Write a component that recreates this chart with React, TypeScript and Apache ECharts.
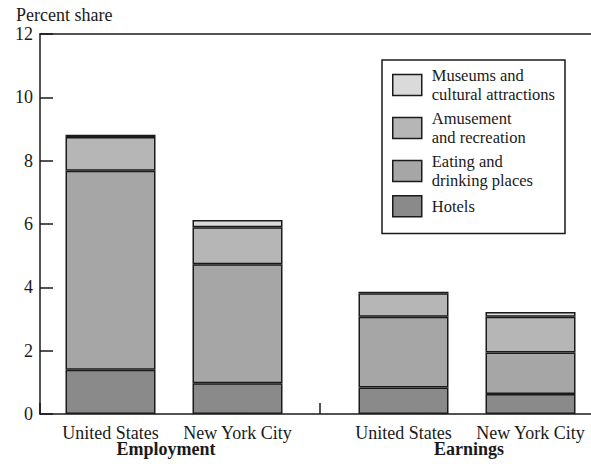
import React, { useEffect, useRef } from "react";
import * as echarts from "echarts";

const groupNames = ["Employment", "Earnings"];
const placeNames = ["United States", "New York City"];
const yTicks = { min: 0, max: 12, interval: 2 };

const segmentNames = [
  "Hotels",
  "Eating and\ndrinking places",
  "Amusement\nand recreation",
  "Museums and\ncultural attractions",
];

// Percent share values: [United States, New York City]
const employmentHotels = [1.4, 0.97];
const employmentEating = [6.28, 3.76];
const employmentAmusement = [1.07, 1.17];
const employmentMuseums = [0.07, 0.23];

const earningsHotels = [0.84, 0.63];
const earningsEating = [2.23, 1.31];
const earningsAmusement = [0.74, 1.13];
const earningsMuseums = [0.05, 0.15];

const segmentColors = ["#8a8a8a", "#a6a6a6", "#b6b6b6", "#dadada"];

const FONT = '"Liberation Serif", "Times New Roman", Times, serif';
const INK = "#1a1a1a";

export default function App() {
  const ref = useRef<HTMLDivElement>(null);

  useEffect(() => {
    if (!ref.current) return;
    const chart = echarts.init(ref.current, undefined, { renderer: "svg" });

    const employment = [employmentHotels, employmentEating, employmentAmusement, employmentMuseums];
    const earnings = [earningsHotels, earningsEating, earningsAmusement, earningsMuseums];

    const makeSeries = (sets: number[][], gridIdx: number) =>
      sets.map((vals, i) => ({
        type: "bar",
        name: segmentNames[i],
        xAxisIndex: gridIdx,
        yAxisIndex: gridIdx,
        stack: "g" + gridIdx,
        barWidth: 90,
        data: vals,
        itemStyle: {
          color: segmentColors[i],
          borderColor: INK,
          borderWidth: 1.5,
        },
      }));

    const catAxis = (gridIndex: number, name: string, namePad: number[]) => ({
      type: "category",
      gridIndex,
      data: placeNames,
      axisLine: { show: false },
      axisTick: { show: false },
      axisLabel: { fontSize: 18, fontFamily: FONT, color: INK, margin: 10, interval: 0 },
      name,
      nameLocation: "middle",
      nameGap: 26,
      nameMoveOverlap: false,
      nameTextStyle: {
        fontSize: 18,
        fontFamily: FONT,
        color: INK,
        fontWeight: "bold",
        padding: namePad,
      },
    });

    const hiddenY = (gridIndex: number) => ({
      type: "value",
      gridIndex,
      min: yTicks.min,
      max: yTicks.max,
      interval: yTicks.interval,
      show: false,
    });

    chart.setOption({
      animation: false,
      backgroundColor: "#ffffff",
      title: {
        text: "Percent share",
        left: 16,
        top: 6,
        padding: 0,
        textStyle: { fontSize: 18, fontFamily: FONT, color: INK, fontWeight: "normal" },
      },
      legend: {
        orient: "vertical",
        left: 382,
        top: 60,
        data: [segmentNames[3], segmentNames[2], segmentNames[1], segmentNames[0]],
        icon: "rect",
        itemWidth: 29,
        itemHeight: 21,
        itemGap: 5,
        padding: [6, 10, 16, 10],
        borderColor: INK,
        borderWidth: 1.5,
        itemStyle: { borderColor: INK, borderWidth: 1.5 },
        selectedMode: false,
        textStyle: {
          fontSize: 16.5,
          lineHeight: 19,
          fontFamily: FONT,
          color: INK,
          padding: [0, 0, 0, 5],
        },
      },
      grid: [
        { left: 47, width: 254, top: 34, bottom: 50, outerBoundsMode: "none" },
        { left: 340, width: 254, top: 34, bottom: 50, outerBoundsMode: "none" },
        { left: 40, right: -9, top: 34, bottom: 50, outerBoundsMode: "none" },
      ],
      xAxis: [
        catAxis(0, groupNames[0], [0, 16, 0, 0]),
        catAxis(1, groupNames[1], [0, 0, 0, 4]),
        {
          type: "category",
          gridIndex: 2,
          data: groupNames,
          axisLine: { show: true, lineStyle: { color: INK, width: 1.5 } },
          axisTick: { show: true, inside: true, length: 11, lineStyle: { color: INK, width: 1.5 } },
          axisLabel: { show: false },
        },
        {
          type: "category",
          gridIndex: 2,
          position: "top",
          data: groupNames,
          axisLine: { show: true, lineStyle: { color: INK, width: 1.5 } },
          axisTick: { show: false },
          axisLabel: { show: false },
        },
      ],
      yAxis: [
        hiddenY(0),
        hiddenY(1),
        {
          type: "value",
          gridIndex: 2,
          min: yTicks.min,
          max: yTicks.max,
          interval: yTicks.interval,
          axisLine: { show: true, lineStyle: { color: INK, width: 1.5 } },
          axisTick: { show: true, inside: true, length: 13, lineStyle: { color: INK, width: 1.5 } },
          axisLabel: { fontSize: 18, fontFamily: FONT, color: INK, margin: 7 },
          splitLine: { show: false },
        },
      ],
      series: [...makeSeries(employment, 0), ...makeSeries(earnings, 1)],
    });

    return () => chart.dispose();
  }, []);

  return <div ref={ref} style={{ width: 591, height: 464, position: "absolute", left: 0, top: 0 }} />;
}
